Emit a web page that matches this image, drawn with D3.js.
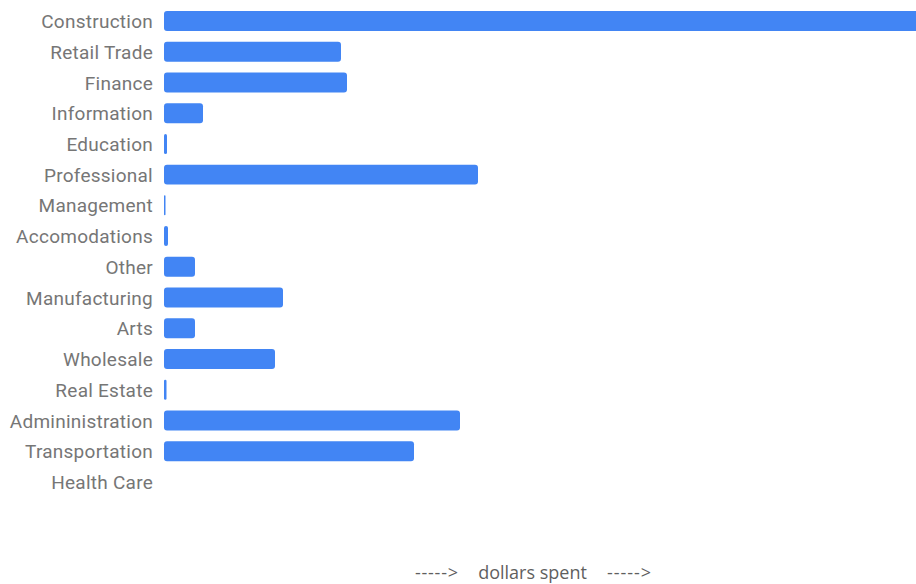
<!DOCTYPE html>
<html>
<head>
<meta charset="utf-8">
<script src="https://cdn.jsdelivr.net/npm/d3@7"></script>
<style>
  html, body { margin: 0; padding: 0; background: #ffffff; }
  svg { display: block; }
</style>
</head>
<body>
<svg id="chart" width="916" height="584"></svg>
<script>
const categories = ["Construction", "Retail Trade", "Finance", "Information", "Education", "Professional", "Management", "Accomodations", "Other", "Manufacturing", "Arts", "Wholesale", "Real Estate", "Admininistration", "Transportation", "Health Care"];
const values = [760, 177, 183, 39, 3, 314, 1.5, 4, 31, 119, 31, 111, 2.5, 296, 250, 0];
const axisTitleParts = ["----->", "dollars spent", "----->"];

const W = 916, H = 584;
const svg = d3.select("#chart");

const x = d3.scaleLinear().domain([0, 752]).range([164, 916]);
const y = d3.scaleBand().domain(categories).range([5.6, 497.3]).paddingInner(0.35).paddingOuter(0.175);

const data = categories.map((c, i) => ({ c, v: values[i] }));

svg.append("g").selectAll("rect").data(data.filter(d => d.v > 0)).join("rect")
  .attr("x", x(0))
  .attr("y", d => y(d.c))
  .attr("width", d => Math.max(0, x(d.v) - x(0)))
  .attr("height", y.bandwidth())
  .attr("rx", d => Math.min(3, (x(d.v) - x(0)) / 2))
  .attr("fill", "#4285f4");

const yAxis = d3.axisLeft(y).tickSize(0).tickPadding(11);
const gy = svg.append("g").attr("transform", `translate(${x(0)},1)`).call(yAxis);
gy.select(".domain").remove();
gy.selectAll("text")
  .attr("font-family", "Roboto, sans-serif")
  .attr("font-size", 19)
  .attr("letter-spacing", 0.25)
  .attr("fill", "#767676");

const title = svg.append("g")
  .attr("font-family", "'Open Sans', 'Noto Sans', sans-serif")
  .attr("font-size", 18)
  .attr("fill", "#5f5f5f");
title.append("text").attr("x", 415).attr("y", 579).attr("text-anchor", "start")
  .attr("textLength", 43).text(axisTitleParts[0]);
title.append("text").attr("x", 532.5).attr("y", 579).attr("text-anchor", "middle")
  .text(axisTitleParts[1]);
title.append("text").attr("x", 607).attr("y", 579).attr("text-anchor", "start")
  .attr("textLength", 44).text(axisTitleParts[2]);
</script>
</body>
</html>
